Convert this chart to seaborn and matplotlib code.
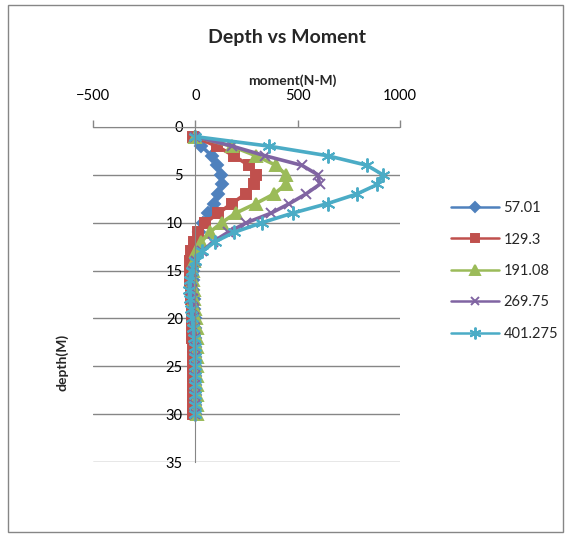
import matplotlib
matplotlib.use("Agg")
import matplotlib.pyplot as plt
import seaborn as sns
import numpy as np
from matplotlib.patches import Rectangle

depth = list(range(1, 31))
s_57 = [0, 30, 79, 104, 123, 128, 113, 89, 64, 39, 20, 5, -5, -10, -12, -12, -10, -8, -5, -3,
        0, 0, 0, 0, 0, 0, 0, 0, 0, 0]
s_129 = [-10, 105, 187, 261, 295, 286, 246, 177, 113, 49, 15, -5, -20, -25, -25, -25, -22, -20, -18, -15,
         -15, -15, -12, -12, -10, -10, -10, -10, -10, -10]
s_191 = [0, 177, 295, 394, 443, 443, 384, 295, 197, 128, 70, 30, 5, -5, -10, -10, -8, -5, 0, 5,
         8, 10, 10, 10, 10, 10, 10, 10, 10, 10]
s_269 = [0, 180, 340, 520, 600, 607, 540, 460, 370, 250, 160, 85, 35, 5, -10, -15, -15, -12, -8, -5,
         -3, 0, 0, 0, 0, 0, 0, 0, 0, 0]
s_401 = [0, 360, 646, 838, 917, 890, 789, 646, 475, 325, 190, 95, 35, 0, -18, -28, -30, -25, -20, -15,
         -10, -5, -2, 0, 0, 0, 0, 0, 0, 0]

labels = ["57.01", "129.3", "191.08", "269.75", "401.275"]
series = [s_57, s_129, s_191, s_269, s_401]
colors = ["#4F81BD", "#C0504D", "#9BBB59", "#8064A2", "#4BACC6"]
markers = ["D", "s", "^", "x", (6, 2, 0)]
msizes = [6, 7.5, 8, 7, 10]

x_ticks = [-500, 0, 500, 1000]
y_ticks = [0, 5, 10, 15, 20, 25, 30, 35]

sns.set_style("white")
plt.rcParams["font.family"] = ["Lato", "DejaVu Sans"]

W, H = 566, 537
fig = plt.figure(figsize=(W / 100, H / 100), dpi=100)
ax = fig.add_axes([93 / W, 1 - 462 / H, (400 - 93) / W, (462 - 127) / H])

for vals, lab, c, m, ms in zip(series, labels, colors, markers, msizes):
    sns.lineplot(x=vals, y=depth, sort=False, estimator=None, ax=ax, color=c,
                 marker=m, markersize=ms, markeredgecolor=c, markerfacecolor=c,
                 markeredgewidth=1.4, linewidth=2.6, label=lab)

ax.set_xlim(-500, 1000)
ax.set_ylim(35, 0)
ax.set_xticks(x_ticks)
ax.set_yticks(y_ticks)
ax.xaxis.tick_top()
ax.xaxis.set_label_position("top")
grey = "#868686"
ax.tick_params(axis="x", direction="out", length=5, color=grey, width=1, pad=12,
               labelsize=10.5, labelcolor="black")
ax.tick_params(axis="y", direction="out", length=4, color=grey, width=1, pad=5,
               labelsize=10.5, labelcolor="black")
ax.spines["left"].set_position(("data", 0))
ax.spines["left"].set_color(grey)
ax.spines["top"].set_color(grey)
ax.spines["bottom"].set_visible(False)
ax.spines["right"].set_visible(False)
ax.yaxis.grid(True, color=grey, linewidth=1)
ax.xaxis.grid(False)
ax.set_axisbelow(True)
ax.set_xlabel("moment(N-M)", fontsize=10, fontweight="bold")
ax.xaxis.set_label_coords(0.648, 1.125)
ax.set_ylabel("")

fig.text(287 / W, 1 - 37 / H, "Depth vs Moment", ha="center", va="center",
         fontsize=14, fontweight="bold")
fig.text(62 / W, 1 - 362 / H, "depth(M)", ha="center", va="center", rotation=90,
         fontsize=10, fontweight="bold")

handles, labs = ax.get_legend_handles_labels()
if ax.get_legend() is not None:
    ax.get_legend().remove()
leg = fig.legend(handles, labs, loc="center left", bbox_to_anchor=(438 / W, 1 - 271 / H),
                 frameon=False, handlelength=3.3, labelspacing=1.2, fontsize=10.5,
                 handletextpad=0.3, markerscale=0.85)
for ln in leg.get_lines():
    ln.set_linewidth(1.8)

fig.patches.append(Rectangle((8 / W, 1 - 532 / H), (563 - 8) / W, (532 - 5) / H,
                             transform=fig.transFigure, fill=False, edgecolor=grey,
                             linewidth=1))

fig.savefig("out.png", dpi=100)
